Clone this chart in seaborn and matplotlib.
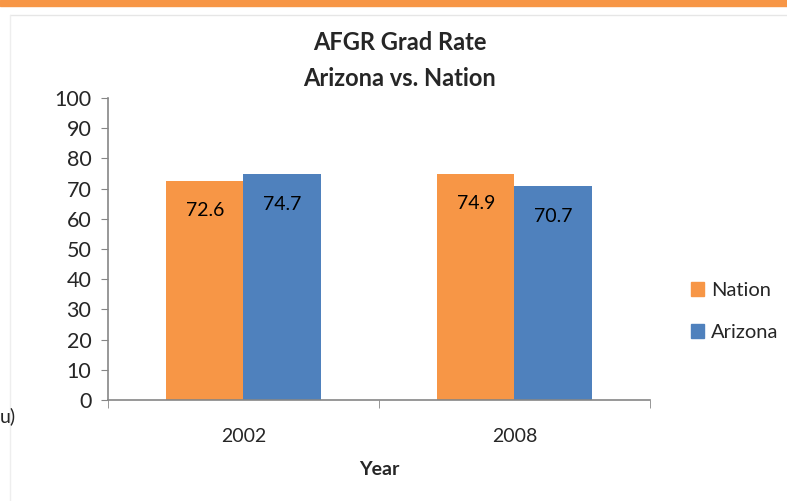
import pandas as pd
import matplotlib.pyplot as plt
import seaborn as sns
from matplotlib.patches import Rectangle
from matplotlib.lines import Line2D

# chart data
years = ['2002', '2008']
nation = [72.6, 74.9]
arizona = [74.7, 70.7]
series = ['Nation', 'Arizona']
colors = ['#F79646', '#4F81BD']

df = pd.DataFrame({
    'Year': years * 2,
    'Rate': nation + arizona,
    'Group': ['Nation'] * 2 + ['Arizona'] * 2,
})

sns.set_style('white')
plt.rcParams['font.family'] = ['Lato', 'DejaVu Sans']

fig = plt.figure(figsize=(7.87, 5.01), dpi=100)
ax = fig.add_axes([0.1372, 0.2016, 0.6887, 0.6028])

sns.barplot(data=df, x='Year', y='Rate', hue='Group', hue_order=series,
            palette=colors, width=0.57, saturation=1, linewidth=0,
            ax=ax, legend=False)

# value labels inside the bars near the top
for cont in ax.containers:
    for bar in cont:
        h = bar.get_height()
        ax.annotate(f'{h:.1f}', (bar.get_x() + bar.get_width() / 2, h),
                    xytext=(0, -30), textcoords='offset pixels',
                    ha='center', va='center', fontsize=14, color='black')

ax.set_ylim(0, 100)
ax.set_yticks(range(0, 101, 10))
ax.set_xlim(-0.5, 1.5)
ax.set_xticks([0, 1])
ax.set_xticklabels(years)
ax.tick_params(axis='y', labelsize=15.5, length=5, color='#868686', direction='out', left=True, pad=7)
ax.tick_params(axis='x', labelsize=14, length=0, pad=20)
# tick marks between categories
ax.set_xticks([-0.5, 0.5, 1.5], minor=True)
ax.tick_params(axis='x', which='minor', length=6, color='#868686', bottom=True)

for s in ['top', 'right']:
    ax.spines[s].set_visible(False)
for s in ['left', 'bottom']:
    ax.spines[s].set_color('#868686')
    ax.spines[s].set_linewidth(1.2)

ax.set_ylabel('')
ax.set_xlabel('Year', fontsize=14, fontweight='bold', labelpad=12)
fig.text(0.508, 0.879, 'AFGR Grad Rate\nArizona vs. Nation', ha='center', va='center',
         fontsize=17, fontweight='bold', linespacing=1.7)

# legend
handles = [Rectangle((0, 0), 1, 1, color=c) for c in colors]
fig.legend(handles, series, loc='center left', bbox_to_anchor=(0.855, 0.378),
           frameon=False, fontsize=14.5, handlelength=0.65, handleheight=0.65,
           handletextpad=0.35, labelspacing=1.25)

# slide decorations
fig.patches.append(Rectangle((0, 0.988), 1, 0.012, transform=fig.transFigure,
                             color='#F79646', zorder=5))
fig.lines.append(Line2D([0.013, 1], [0.97, 0.97], transform=fig.transFigure,
                        color='#e6e6e6', lw=1))
fig.lines.append(Line2D([0.013, 0.013], [0, 0.97], transform=fig.transFigure,
                        color='#eeeeee', lw=1))
fig.text(0.0, 0.17, 'u)', fontsize=14, ha='left', va='center')

fig.savefig('out.png', dpi=100)
